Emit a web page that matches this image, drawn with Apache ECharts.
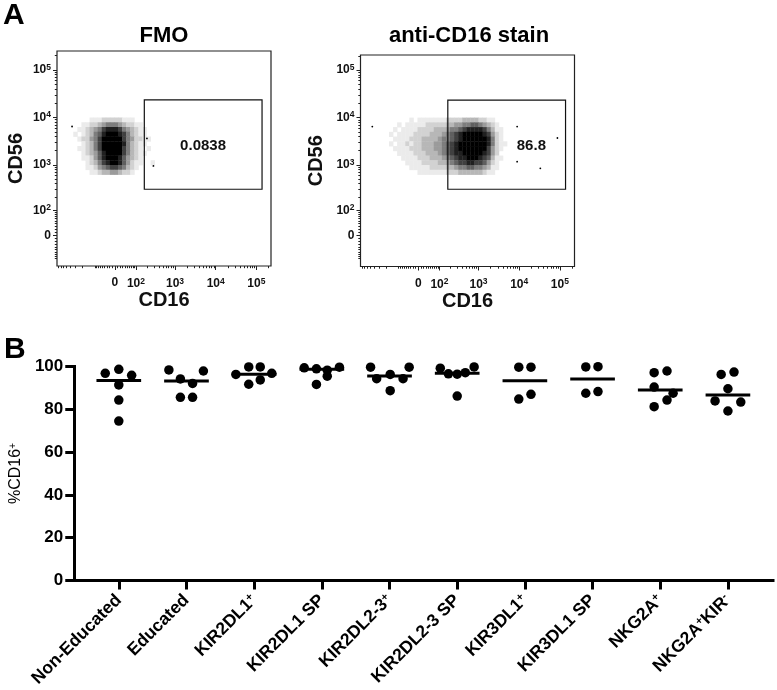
<!DOCTYPE html>
<html><head><meta charset="utf-8">
<script src="https://cdn.jsdelivr.net/npm/echarts@6/dist/echarts.min.js"></script>
<style>html,body{margin:0;padding:0;background:#fff}#c{width:777px;height:690px}</style>
</head><body><div id="c"></div>
<script>
// ================= Panel B data =================
const categories = ['Non-Educated','Educated','KIR2DL1^+','KIR2DL1 SP','KIR2DL2-3^+','KIR2DL2-3 SP','KIR3DL1^+','KIR3DL1 SP','NKG2A^+','NKG2A^+KIR^-'];
const nonEducated = [96.8, 98.7, 95.9, 91.4, 84.3, 74.5];
const educated    = [98.4, 97.9, 94.2, 92.1, 85.6, 85.6];
const kir2dl1Pos  = [99.8, 99.8, 96.3, 96.8, 91.7, 93.7];
const kir2dl1SP   = [99.4, 98.9, 98.3, 99.7, 95.5, 91.6];
const kir2dl23Pos = [99.7, 94.3, 96.3, 94.3, 99.7, 88.7];
const kir2dl23SP  = [99.2, 96.6, 96.4, 97.1, 99.8, 86.2];
const kir3dl1Pos  = [99.7, 99.7, 84.8, 87.0];
const kir3dl1SP   = [99.8, 99.9, 87.5, 88.3];
const nkg2aPos    = [97.1, 97.9, 90.4, 87.5, 84.3, 81.2];
const nkg2aKirNeg = [96.3, 97.4, 89.6, 83.9, 83.4, 79.2];
const groupValues = [nonEducated, educated, kir2dl1Pos, kir2dl1SP, kir2dl23Pos, kir2dl23SP, kir3dl1Pos, kir3dl1SP, nkg2aPos, nkg2aKirNeg];
// horizontal spread of overlapping dots (category units)
const groupJitter = [
  [-0.20, 0, 0.19, 0, 0, 0],
  [-0.26, 0.25, -0.09, 0.09, -0.09, 0.09],
  [-0.08, 0.09, -0.27, 0.26, -0.08, 0.09],
  [-0.26, -0.08, 0.08, 0.26, 0.08, -0.08],
  [-0.28, -0.19, 0.01, 0.20, 0.29, 0.01],
  [-0.25, -0.13, 0, 0.12, 0.25, 0],
  [-0.09, 0.09, -0.09, 0.09],
  [-0.10, 0.08, -0.10, 0.08],
  [-0.09, 0.10, -0.09, 0.19, 0.10, -0.09],
  [-0.10, 0.09, 0, -0.19, 0.19, 0]
];
const medians = [93.4, 93.2, 96.4, 98.7, 95.6, 96.9, 93.3, 94.2, 89.0, 86.7];
const yTicksB = [0, 20, 40, 60, 80, 100];

// ================= Panel A data =================
const flowTickValues = [0, 1e2, 1e3, 1e4, 1e5];
const flowTickLabels = ['0', '10^2', '10^3', '10^4', '10^5'];
const panelTitles = ['FMO', 'anti-CD16 stain'];
const gateCD16 = [170, 138000];
const gateCD56 = [305, 23400];
const gatePercent = ['0.0838', '86.8'];
const gateLabelAt = [[3.69, 3.40], [4.30, 3.40]];   // display units
const densityCell = 0.1;
const fmoOrigin = [0.5, 2.8];
const fmoDensity = [
  '000011122222111000000',
  '001122345554322110000',
  '011234578887543211000',
  '101235689998753211000',
  '012245799999754221100',
  '001235799999853211000',
  '011235799999753210100',
  '001234689999753211000',
  '001124689998643210000',
  '000123578998642110010',
  '000112456776532100000',
  '000011233443221000000'
];
const antiOrigin = [0.8, 2.8];
const antiDensity = [
  '00000101111111222233332211000',
  '00101111122222334455665432100',
  '01011112222333455678888753110',
  '10111122223334567899999874210',
  '01111222333345567899999985210',
  '10112122333445678999999985211',
  '01111222333445678999999974210',
  '00111122233345678899999874200',
  '00011112223334567889998763110',
  '00001111222233456778877642100',
  '00000111112222334556655431100',
  '00000001111111222333333211000'
];
const fmoOutliers = [[2.47, 2.98], [2.31, 3.56], [0.47, 3.81]];
const antiOutliers = [[0.39, 3.81], [3.95, 3.81], [3.95, 3.07], [4.52, 2.93], [4.94, 3.57]];

// ================= helpers =================
const FONT = 'Liberation Sans, Arial, Helvetica, sans-serif';
const C = 33.1;
function disp(v) { return Math.log10((v + Math.sqrt(v * v + 4 * C * C)) / 2); }
function toRich(s) { return s.replace(/\^(.)/g, '{sup|$1}'); }

const minorRaw = [];
for (let k = 1; k <= 9; k++) { minorRaw.push(10 * k, -10 * k); }
for (let k = 2; k <= 9; k++) { minorRaw.push(100 * k, -100 * k, 1000 * k, 10000 * k); }
minorRaw.push(200000);

const flowX = { min: 0.10, max: 5.36 };
const flowY = [{ min: 0.873, max: 5.40 }, { min: 0.86, max: 5.32 }];
const majorDisp = flowTickValues.map(disp);
function flowLabel(v) {
  let best = 0;
  majorDisp.forEach((d, i) => { if (Math.abs(d - v) < Math.abs(majorDisp[best] - v)) best = i; });
  return toRich(flowTickLabels[best]);
}
const flowRich = { sup: { fontSize: 8.5, fontWeight: 'bold', fontFamily: FONT, color: '#111', verticalAlign: 'top', padding: [0, 0, 5, 0] } };

const grids = [
  { left: 57, top: 51, width: 214, height: 215, show: true, borderColor: '#222', borderWidth: 1.2, backgroundColor: 'transparent' },
  { left: 360.5, top: 55, width: 214, height: 211.5, show: true, borderColor: '#222', borderWidth: 1.2, backgroundColor: 'transparent' },
  { left: 72, top: 366.5, width: 701, height: 214 }
];

const xAxes = [], yAxes = [];
[0, 1].forEach(g => {
  const minorX = minorRaw.map(disp).filter(d => d > flowX.min && d < flowX.max);
  const minorY = minorRaw.map(disp).filter(d => d > flowY[g].min && d < flowY[g].max);
  xAxes.push({
    type: 'value', gridIndex: g, min: flowX.min, max: flowX.max, position: 'bottom',
    axisLine: { show: false, onZero: false }, splitLine: { show: false },
    axisTick: { show: true, customValues: majorDisp, length: 4, lineStyle: { color: '#222', width: 1 } },
    axisLabel: { show: true, customValues: majorDisp, formatter: flowLabel, margin: 11, fontSize: 12, fontWeight: 'bold', color: '#111', fontFamily: FONT, rich: flowRich, hideOverlap: false },
    name: 'CD16', nameLocation: 'middle', nameGap: 24,
    nameTextStyle: { fontSize: 20, fontWeight: 'bold', color: '#111', fontFamily: FONT }
  });
  xAxes.push({
    type: 'value', gridIndex: g, min: flowX.min, max: flowX.max, position: 'bottom',
    axisLine: { show: false, onZero: false }, splitLine: { show: false }, axisLabel: { show: false },
    axisTick: { show: true, customValues: minorX, length: 2.2, lineStyle: { color: '#222', width: 1 } }
  });
  yAxes.push({
    type: 'value', gridIndex: g, min: flowY[g].min, max: flowY[g].max, position: 'left',
    axisLine: { show: false, onZero: false }, splitLine: { show: false },
    axisTick: { show: true, customValues: majorDisp, length: 4, lineStyle: { color: '#222', width: 1 } },
    axisLabel: { show: true, customValues: majorDisp, formatter: flowLabel, margin: 6, fontSize: 12, fontWeight: 'bold', color: '#111', fontFamily: FONT, rich: flowRich },
    name: 'CD56', nameLocation: 'middle', nameRotate: 90, nameGap: g === 0 ? 31 : 34,
    nameTextStyle: { fontSize: 20, fontWeight: 'bold', color: '#111', fontFamily: FONT }
  });
  yAxes.push({
    type: 'value', gridIndex: g, min: flowY[g].min, max: flowY[g].max, position: 'left',
    axisLine: { show: false, onZero: false }, splitLine: { show: false }, axisLabel: { show: false },
    axisTick: { show: true, customValues: minorY, length: 2.2, lineStyle: { color: '#222', width: 1 } }
  });
});

const catIdx = categories.map((_, i) => i);
xAxes.push({
  type: 'value', gridIndex: 2, min: -0.658, max: 9.666, position: 'bottom',
  axisLine: { show: true, onZero: false, lineStyle: { color: '#000', width: 3, cap: 'square' } },
  splitLine: { show: false },
  axisTick: { show: true, customValues: catIdx, length: 9, lineStyle: { color: '#000', width: 3 } },
  axisLabel: {
    show: true, customValues: catIdx, rotate: 45, margin: 17,
    formatter: v => toRich(categories[Math.round(v)]),
    fontSize: 17.5, fontWeight: 'bold', color: '#000', fontFamily: FONT,
    rich: { sup: { fontSize: 11, fontWeight: 'bold', color: '#000', fontFamily: FONT, verticalAlign: 'top', padding: [0, 0, 7, 0] } }
  }
});
yAxes.push({
  type: 'value', gridIndex: 2, min: 0, max: 100, interval: 20, position: 'left',
  axisLine: { show: true, onZero: false, lineStyle: { color: '#000', width: 3, cap: 'square' } },
  splitLine: { show: false },
  axisTick: { show: true, length: 9, lineStyle: { color: '#000', width: 3 } },
  axisLabel: { show: true, customValues: yTicksB, margin: 11, fontSize: 17, fontWeight: 'bold', color: '#000', fontFamily: FONT },
  name: toRich('%CD16^+'), nameLocation: 'middle', nameRotate: 90, nameGap: 43,
  nameTextStyle: { fontSize: 16, color: '#000', fontFamily: FONT,
    rich: { sup: { fontSize: 10, color: '#000', fontFamily: FONT, verticalAlign: 'top', padding: [0, 0, 6, 0] } } }
});

// ----- series builders -----
function densitySeries(rows, origin, xi, yi) {
  const data = [];
  rows.forEach((row, r) => {
    for (let k = 0; k < row.length; k++) {
      const lv = +row[k];
      if (lv > 0) data.push([origin[0] + k * densityCell, origin[1] + (rows.length - 1 - r) * densityCell, lv]);
    }
  });
  return {
    type: 'custom', xAxisIndex: xi, yAxisIndex: yi, data, silent: true, z: 1,
    renderItem: (params, api) => {
      const x = api.value(0), y = api.value(1), lv = api.value(2);
      const a = api.coord([x, y + densityCell]);
      const b = api.coord([x + densityCell, y]);
      const g = Math.round(255 * (1 - Math.pow(lv / 9, 1.15)));
      return { type: 'rect', shape: { x: a[0], y: a[1], width: b[0] - a[0] + 0.4, height: b[1] - a[1] + 0.4 },
               style: { fill: 'rgb(' + g + ',' + g + ',' + g + ')' } };
    }
  };
}
function gateSeries(xi, yi) {
  return {
    type: 'custom', xAxisIndex: xi, yAxisIndex: yi, silent: true, z: 3,
    data: [[disp(gateCD16[0]), disp(gateCD56[0]), disp(gateCD16[1]), disp(gateCD56[1])]],
    renderItem: (params, api) => {
      const a = api.coord([api.value(0), api.value(3)]);
      const b = api.coord([api.value(2), api.value(1)]);
      return { type: 'rect', shape: { x: a[0], y: a[1], width: b[0] - a[0], height: b[1] - a[1] },
               style: { fill: 'none', stroke: '#111', lineWidth: 1.2 } };
    }
  };
}
function gateLabelSeries(i, xi, yi) {
  return {
    type: 'custom', xAxisIndex: xi, yAxisIndex: yi, silent: true, z: 4,
    data: [gateLabelAt[i]],
    renderItem: (params, api) => {
      const p = api.coord([api.value(0), api.value(1)]);
      return { type: 'text', x: p[0], y: p[1],
               style: { text: gatePercent[i], align: 'center', verticalAlign: 'middle', fontSize: 15, fontWeight: 'bold', fontFamily: FONT, fill: '#111' } };
    }
  };
}
function outlierSeries(pts, xi, yi) {
  return { type: 'scatter', xAxisIndex: xi, yAxisIndex: yi, data: pts, symbolSize: 1.8, silent: true,
           itemStyle: { color: '#000', opacity: 1 }, z: 2 };
}

const dots = [];
groupValues.forEach((vals, i) => vals.forEach((v, j) => dots.push([i + groupJitter[i][j], v])));

const series = [
  densitySeries(fmoDensity, fmoOrigin, 0, 0),
  outlierSeries(fmoOutliers, 0, 0),
  gateSeries(0, 0),
  gateLabelSeries(0, 0, 0),
  densitySeries(antiDensity, antiOrigin, 2, 2),
  outlierSeries(antiOutliers, 2, 2),
  gateSeries(2, 2),
  gateLabelSeries(1, 2, 2),
  { type: 'scatter', xAxisIndex: 4, yAxisIndex: 4, data: dots, symbol: 'circle', symbolSize: 9.5,
    itemStyle: { color: '#000', opacity: 1 }, silent: true, z: 3 },
  { type: 'custom', xAxisIndex: 4, yAxisIndex: 4, silent: true, z: 4,
    data: medians.map((m, i) => [i, m]),
    renderItem: (params, api) => {
      const a = api.coord([api.value(0) - 0.33, api.value(1)]);
      const b = api.coord([api.value(0) + 0.33, api.value(1)]);
      return { type: 'line', shape: { x1: a[0], y1: a[1], x2: b[0], y2: b[1] }, style: { stroke: '#000', lineWidth: 3 } };
    } }
];

const titleStyle = (fs) => ({ fontSize: fs, fontWeight: 'bold', color: '#000', fontFamily: FONT });
const option = {
  animation: false,
  backgroundColor: '#fff',
  textStyle: { fontFamily: FONT },
  title: [
    { text: 'A', left: 3, top: 1, padding: 0, textStyle: titleStyle(30) },
    { text: 'B', left: 4, top: 335, padding: 0, textStyle: titleStyle(30) },
    { text: panelTitles[0], left: 164, top: 25, padding: 0, textAlign: 'center', textStyle: titleStyle(22) },
    { text: panelTitles[1], left: 469, top: 25, padding: 0, textAlign: 'center', textStyle: titleStyle(22) }
  ],
  grid: grids,
  xAxis: xAxes,
  yAxis: yAxes,
  series
};
const chart = echarts.init(document.getElementById('c'), null, { renderer: 'canvas' });
chart.setOption(option);
</script>
</body></html>
